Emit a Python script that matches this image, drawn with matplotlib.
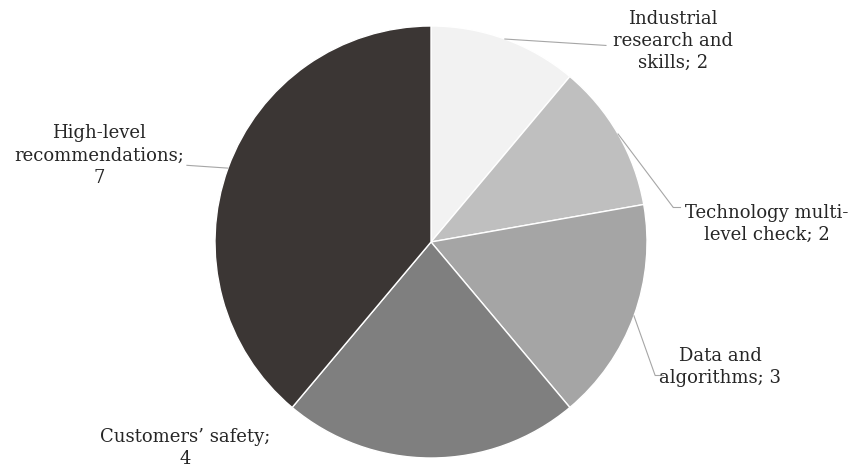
import numpy as np
import matplotlib.pyplot as plt

labels = ['Industrial\nresearch and\nskills; 2',
          'Technology multi-\nlevel check; 2',
          'Data and\nalgorithms; 3',
          'Customers\u2019 safety;\n4',
          'High-level\nrecommendations;\n7']
values = [2, 2, 3, 4, 7]
colors = ['#f2f2f2', '#bfbfbf', '#a5a5a5', '#7f7f7f', '#3b3634']

# label centre positions (pie radius = 1) and leader-line end points
label_pos = [(1.12, 0.93), (1.555, 0.085), (1.34, -0.58), (-1.14, -0.955), (-1.535, 0.40)]
line_end = [(0.81, 0.91), (1.12, 0.162), (1.037, -0.616), None, (-1.13, 0.355)]

plt.rcParams['font.family'] = ['DejaVu Serif']

fig = plt.figure(figsize=(8.54, 4.74), dpi=100)
ax = fig.add_axes([215 / 854, 16 / 474, 432 / 854, 432 / 474])

wedges, _ = ax.pie(values, colors=colors, startangle=90, counterclock=False,
                   wedgeprops=dict(edgecolor='white', linewidth=1))
ax.set_xlim(-1, 1)
ax.set_ylim(-1, 1)
ax.set_aspect('equal')
ax.axis('off')

for w, lab, pos, end in zip(wedges, labels, label_pos, line_end):
    ang = np.deg2rad((w.theta1 + w.theta2) / 2)
    x0, y0 = np.cos(ang), np.sin(ang)
    if end is not None:
        ax.plot([x0, end[0]], [y0, end[1]], color='#a6a6a6', lw=0.8, clip_on=False)
        if lab.startswith('Tech') or lab.startswith('Data'):
            ax.plot([end[0], end[0] + 0.035], [end[1], end[1]], color='#a6a6a6',
                    lw=0.8, clip_on=False)
    ax.text(pos[0], pos[1], lab, ha='center', va='center', fontsize=13,
            color='#262626', linespacing=1.3, clip_on=False)

plt.savefig('out.png', dpi=100)
